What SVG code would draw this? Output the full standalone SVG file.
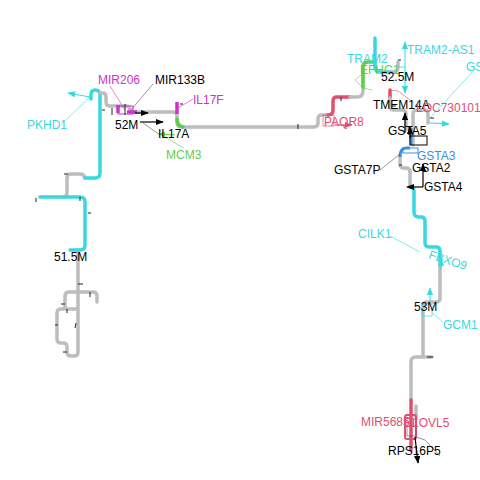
<svg xmlns="http://www.w3.org/2000/svg" width="480" height="480" viewBox="0 0 480 480">
<style>
text{font-family:"Liberation Sans",Arial,sans-serif;font-size:12px}
.g{fill:none;stroke:#bdbdbd;stroke-width:3.5;stroke-linecap:round;stroke-linejoin:round}
.c{fill:none;stroke:#3ad7e0;stroke-width:3.5;stroke-linecap:round;stroke-linejoin:round}
.p{fill:none;stroke:#e0506e;stroke-width:3.5;stroke-linecap:round;stroke-linejoin:round}
.gr{fill:none;stroke:#5fcc4f;stroke-width:3.5;stroke-linecap:round;stroke-linejoin:round}
.m{fill:none;stroke:#cc33cc;stroke-width:3.5}
.b{fill:none;stroke:#3a8fe0;stroke-width:3}
.tk{stroke:#222;stroke-width:1}
.ln{fill:none;stroke-width:0.6}
.tc{fill:#3ad7e0}.tm{fill:#cc33cc}.tg{fill:#5fcc4f}.tp{fill:#e0506e}.tb{fill:#3a8fe0}.tx{fill:#000}
</style>
<defs>
<marker id="ab" viewBox="0 0 10 10" refX="9" refY="5" markerUnits="userSpaceOnUse" markerWidth="8" markerHeight="8" orient="auto"><path d="M0,1L10,5L0,9z" fill="#000"/></marker>
<marker id="ac" viewBox="0 0 10 10" refX="9" refY="5" markerUnits="userSpaceOnUse" markerWidth="8" markerHeight="8" orient="auto"><path d="M0,1L10,5L0,9z" fill="#3ad7e0"/></marker>
<marker id="ap" viewBox="0 0 10 10" refX="9" refY="5" markerUnits="userSpaceOnUse" markerWidth="8" markerHeight="8" orient="auto"><path d="M0,1L10,5L0,9z" fill="#e0506e"/></marker>
<marker id="ag" viewBox="0 0 10 10" refX="9" refY="5" markerUnits="userSpaceOnUse" markerWidth="7" markerHeight="7" orient="auto"><path d="M0,1L10,5L0,9z" fill="#5fcc4f"/></marker>
</defs>
<g id="connectors">
<path class="g" d="M78 250 L78 352 Q78 356 74 356 L71 356 Q67 356 67 352 L67 347 Q67 343 63 343 L61 343 Q57 343 57 339 L57 313 Q57 309 61 309 L78 309"/>
<path class="g" d="M65 308 L65 296 Q65 292 69 292 L93 292 Q97 292 97 296 L97 302"/>
<path class="g" d="M63 197 Q67 197 67 192 L67 178 Q67 174 71 174 L80 174 Q84 174 85 178"/>
<path class="c" d="M70 250 L80 250 Q85 250 85 245 L85 202 Q85 197 80 197 L40 197"/>
<path class="c" d="M85 178 L95 178 Q100 178 100 173 L100 95 Q100 90 95 90 Q91 90 91 95 L91 99"/>
<path class="g" d="M100 93 L103 93 Q106 93 106 97 L106 102 Q106 106 110 106 L126 106 Q130 106 130 110 L130 112 L173 112 Q177 112 177 116 L177 122 Q177 127 182 127 L313 127 Q318 127 318 123 L318 119 Q318 115 322 115 L328 115"/>
<path class="m" d="M127 112 L137 112 M177 102 L177 114 M118 105 L118 113"/>
<rect x="118" y="106" width="15" height="8" fill="none" stroke="#cc33cc" stroke-width="1"/>
<path class="gr" d="M177 119 Q177 126 183 127"/>
<path class="p" d="M328 115 Q333 115 333 110 L333 101 Q333 97 337 97 L350 97"/>
<path class="g" d="M350 97 L357 97 Q363 97 363 91 L363 87"/>
<path class="gr" d="M363 87 L363 67 Q363 62 368 62 L375 62"/>
<path class="c" d="M375 38 L375 67 Q375 72 380 72 L393 72"/>
<path class="g" d="M393 72 Q398 72 398 67 L398 62"/>
<path class="p" d="M390 90 L390 98"/>
<path class="g" d="M390 98 L390 106 Q390 110 394 110 L402 110 Q406 110 406 114 L406 130"/>
<path class="g" d="M413 145 L413 114 Q413 110 417 110 L424 110 Q428 110 428 114 L428 123"/>
<path class="g" d="M400 155 L400 164 Q400 168 404 168 L406 168 Q410 168 410 172 L410 187"/>
<path class="b" d="M400 157 Q400 148 406 148 L410 148 M411 128 L411 145"/>
<rect x="403" y="148" width="15" height="5" fill="none" stroke="#3a8fe0" stroke-width="1"/>
<rect x="410" y="136" width="17" height="9" fill="none" stroke="#000" stroke-width="1"/>
<path class="c" d="M410 187 Q414 187 414 191 L414 212 Q414 217 419 217 L421 217 Q425 217 425 221 L425 243 Q425 247 430 247 L436 247 Q440 247 440 251 L440 263"/>
<path class="g" d="M440 263 L440 298 Q440 302 436 302 L427 302 Q423 302 423 306 L423 355"/>
<path class="g" d="M432 357 L416 357 Q411 357 411 362 L411 400"/>
<path class="g" d="M416 406 L416 420"/>
<path class="p" d="M411 400 L411 450"/>
<rect x="405" y="415" width="11" height="24" rx="2" fill="none" stroke="#e0506e" stroke-width="2"/>
<rect x="407" y="426" width="9" height="10" fill="none" stroke="#555" stroke-width="0.6"/>
<path d="M90 97 L68 93" stroke="#3ad7e0" stroke-width="1" marker-end="url(#ac)"/>
<path d="M135 113 L148 113" stroke="#000" stroke-width="1.2" marker-end="url(#ab)"/>
<path d="M140 122 L163 122" stroke="#000" stroke-width="1.2" marker-end="url(#ab)"/>
<path d="M175 135 L159 134" stroke="#5fcc4f" stroke-width="1.2" marker-end="url(#ag)"/>
<path d="M335 125 L352 125" stroke="#e0506e" stroke-width="1.2" marker-end="url(#ap)"/>
<rect x="323" y="115" width="11" height="11" fill="none" stroke="#e0506e" stroke-width="0.7"/>
<path d="M405 56 L405 93" stroke="#3ad7e0" stroke-width="1" marker-end="url(#ac)"/>
<path d="M405 56 L405 42" stroke="#3ad7e0" stroke-width="1" marker-end="url(#ac)"/>
<path d="M398 67 L405 67" stroke="#3ad7e0" stroke-width="0.8"/>
<path d="M405 133 L405 113" stroke="#000" stroke-width="1.2" marker-end="url(#ab)"/>
<path d="M410 138 L410 127" stroke="#000" stroke-width="1.2" marker-end="url(#ab)"/>
<path d="M430 123 L449 124" stroke="#3ad7e0" stroke-width="1" marker-end="url(#ac)"/>
<path d="M423 187 L423 164" stroke="#000" stroke-width="1.2" marker-end="url(#ab)"/>
<path d="M423 187 L407 187" stroke="#000" stroke-width="1.2" marker-end="url(#ab)"/>
<path d="M441 270 L441 259" stroke="#3ad7e0" stroke-width="1" marker-end="url(#ac)"/>
<path d="M430 302 L430 288" stroke="#3ad7e0" stroke-width="1" marker-end="url(#ac)"/>
<rect x="422" y="304" width="10" height="12" fill="none" stroke="#3ad7e0" stroke-width="0.7"/>
<path d="M415 437 L418 463" stroke="#000" stroke-width="1.2" marker-end="url(#ab)"/>
<path class="ln" stroke="#3ad7e0" d="M62 124 L90 97"/>
<path class="ln" stroke="#cc33cc" d="M110 86 L125 110"/>
<path class="ln" stroke="#555" d="M153 84 L131 110"/>
<path class="ln" stroke="#cc33cc" d="M193 99 L178 108"/>
<path class="ln" stroke="#555" d="M143 123 L160 135"/>
<path class="ln" stroke="#5fcc4f" d="M184 148 L163 136"/>
<path class="ln" stroke="#5fcc4f" d="M365 72 L355 80 L363 88 L372 90"/>
<path class="ln" stroke="#e0506e" d="M390 90 L398 91 L414 103"/>
<path class="ln" stroke="#3ad7e0" d="M476 68 L428 120"/>
<path class="ln" stroke="#555" d="M380 170 L400 154"/>
<path class="ln" stroke="#3ad7e0" d="M390 236 L420 252"/>
<path class="ln" stroke="#3ad7e0" d="M443 322 L432 313"/>
<path class="ln" stroke="#555" d="M416 437 L425 440 L440 456"/>
<g class="tk">
<path d="M78 284 L83 284 M90 292 L90 297 M61 304 L65 304 M67 309 L67 313 M55 325 L58 325 M76 323 L75 328 M63 352 L67 352"/>
<path d="M36 198 L36 202 M80 197 L80 201 M88 213 L91 213 M64 174 L68 174 M102 110 L105 110"/>
<path d="M112 108 L112 115 M125 104 L125 115 M298 124 L298 129 M180 104 L183 104 M341 97 L341 101 M398 60 L401 60 M392 106 L396 106 M430 118 L434 118 M399 165 L402 165 M433 357 L427 357"/>
</g>
</g>
<g id="labels">
<text class="tm" x="98" y="84">MIR206</text>
<text class="tx" x="155" y="84">MIR133B</text>
<text class="tc" x="27" y="129">PKHD1</text>
<text class="tm" x="193" y="104">IL17F</text>
<text class="tx" x="115" y="129">52M</text>
<text class="tx" x="158" y="138">IL17A</text>
<text class="tg" x="166" y="159">MCM3</text>
<text class="tx" x="54" y="261">51.5M</text>
<text class="tc" x="347" y="63">TRAM2</text>
<text class="tg" x="360" y="74">EFHC1</text>
<text class="tc" x="407" y="54">TRAM2-AS1</text>
<text class="tc" x="466" y="71">GS</text>
<text class="tx" x="381" y="81">52.5M</text>
<text class="tx" x="373" y="109">TMEM14A</text>
<text class="tp" x="416" y="112">LOC730101</text>
<text class="tp" x="324" y="126">PAQR8</text>
<text class="tx" x="388" y="135">GSTA5</text>
<text class="tb" x="417" y="160">GSTA3</text>
<text class="tx" x="412" y="172">GSTA2</text>
<text class="tx" x="334" y="174">GSTA7P</text>
<text class="tx" x="424" y="191">GSTA4</text>
<text class="tc" x="358" y="238">CILK1</text>
<text class="tc" x="428" y="258" transform="rotate(18 428 258)">FBXO9</text>
<text class="tx" x="414" y="311">53M</text>
<text class="tc" x="443" y="329">GCM1</text>
<text class="tp" x="361" y="426">MIR5685</text>
<text class="tp" x="404" y="427">ELOVL5</text>
<text class="tx" x="388" y="455">RPS16P5</text>
</g>
</svg>
